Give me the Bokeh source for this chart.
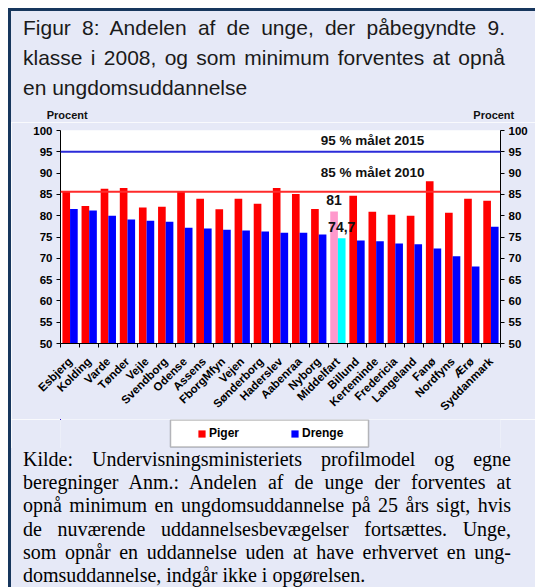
import math
from bokeh.plotting import figure
from bokeh.layouts import column, row
from bokeh.models import (Range1d, LinearAxis, FixedTicker, Span, Label, Legend, LegendItem,
                          ColumnDataSource, Div, BoxAnnotation)
from bokeh.transform import dodge
from bokeh.core.properties import value
from bokeh.embed import file_html
from bokeh.resources import INLINE

# ---------------- data ----------------
categories = ["Esbjerg", "Kolding", "Varde", "Tønder", "Vejle", "Svendborg", "Odense",
              "Assens", "FborgMfyn", "Vejen", "Sønderborg", "Haderslev", "Aabenraa",
              "Nyborg", "Middelfart", "Billund", "Kerteminde", "Fredericia", "Langeland",
              "Fanø", "Nordfyns", "Ærø", "Syddanmark"]
piger = [85.7, 82.3, 86.3, 86.5, 81.9, 82.1, 85.7, 84.0, 81.5, 84.0, 82.8, 86.5, 85.1,
         81.6, 81.0, 84.7, 80.9, 80.2, 80.0, 88.1, 80.7, 84.0, 83.5]
drenge = [81.6, 81.2, 80.0, 79.1, 78.8, 78.6, 77.2, 77.0, 76.7, 76.5, 76.3, 76.0, 76.0,
          75.6, 74.7, 74.2, 74.0, 73.5, 73.3, 72.3, 70.5, 68.1, 77.4]
highlight = "Middelfart"
series_names = ["Piger", "Drenge"]
goal_values = [95.0, 85.6]
goal_labels = ["95 % målet 2015", "85 % målet  2010"]
y_ticks = [50, 55, 60, 65, 70, 75, 80, 85, 90, 95, 100]
y_label = "Procent"

title_lines = ["Figur 8: Andelen af de unge, der påbegyndte 9.",
               "klasse i 2008, og som minimum forventes at opnå",
               "en ungdomsuddannelse"]
caption_lines = ["Kilde: Undervisningsministeriets profilmodel og egne",
                 "beregninger Anm.: Andelen af de unge der forventes at",
                 "opnå minimum en ungdomsuddannelse på 25 års sigt, hvis",
                 "de nuværende uddannelsesbevægelser fortsættes. Unge,",
                 "som opnår en uddannelse uden at have erhvervet en ung-",
                 "domsuddannelse, indgår ikke i opgørelsen."]

# ---------------- styles ----------------
BG = "#E6E9F7"
NAVY = "#17365D"
RED, BLUE, PINK, CYAN = "#FF0000", "#0000FF", "#FF99CC", "#00FFFF"
SANS, SERIF = "Liberation Sans", "Liberation Serif"

OX, OY, BORDER = 8, 8, 3           # outer white margin and navy border
CX, CY = OX + BORDER, OY + BORDER  # content origin on page
CW = 535 - CX                      # content width
CH = 587 - CY                      # content height
FX0, FX1, FY0, FY1 = 60, 500, 130, 345   # chart frame position on page (px)
TITLE_H = 122 - CY                 # title block: page y 11..122
FIG_TOP = CY + TITLE_H
FIG_H = 419 - FIG_TOP              # chart: page y 122..419
LEG_TOP = FIG_TOP + FIG_H
LEG_H = 448 - LEG_TOP              # legend strip: page y 419..448
CAP_TOP = LEG_TOP + LEG_H
CAP_H = 587 - CAP_TOP              # caption block, cut at the window bottom

n = len(categories)
p = figure(width=CW, height=FIG_H, x_range=Range1d(-0.5, n - 0.5), y_range=Range1d(50, 100),
           output_backend="svg", toolbar_location=None,
           min_border_left=FX0 - CX, min_border_right=CX + CW - FX1,
           min_border_top=FY0 - FIG_TOP, min_border_bottom=FIG_TOP + FIG_H - FY1,
           background_fill_color="white", border_fill_color=BG, outline_line_color=None)
p.grid.visible = False


def px2x(px):
    return -0.5 + (px - FX0) * n / (FX1 - FX0)


def py2y(py):
    return 50 + (FY1 - py) * 50.0 / (FY1 - FY0)


# ---------------- bars ----------------
pc = [PINK if c == highlight else RED for c in categories]
dc = [CYAN if c == highlight else BLUE for c in categories]
src = ColumnDataSource(dict(x=list(range(n)), piger=piger, drenge=drenge, pc=pc, dc=dc))
r1 = p.vbar(x=dodge("x", -0.2, range=p.x_range), top="piger", width=0.4, fill_color="pc",
            line_color=None, source=src)
r2 = p.vbar(x=dodge("x", 0.2, range=p.x_range), top="drenge", width=0.4, fill_color="dc",
            line_color=None, source=src)

hi = categories.index(highlight)


def fmt(v):
    s = f"{v:.1f}".replace(".", ",")
    return s[:-2] if s.endswith(",0") else s


for vals, off in [(piger, -0.2), (drenge, 0.2)]:
    s = ColumnDataSource(dict(x=[hi], y=[vals[hi]], t=[fmt(vals[hi])]))
    p.text(x=dodge("x", off, range=p.x_range), y="y", text="t", source=s,
           text_font=value(SANS), text_font_style="bold", text_font_size="14px",
           text_align="center", text_baseline="bottom", y_offset=-6, text_color="#111111")

# ---------------- goal lines ----------------
for gv, col in zip(goal_values, ["#2B2BD9", "#FF2A2A"]):
    p.add_layout(Span(location=gv, dimension="width", line_color=col, line_width=2))
for gl, (lx, ly) in zip(goal_labels, [(372, 140), (374, 172)]):
    p.add_layout(Label(x=px2x(lx), y=py2y(ly), text=gl, text_font=SANS, text_font_style="bold",
                       text_font_size="13.5px", text_align="center", text_baseline="middle",
                       text_color="#111111"))


# ---------------- axes ----------------
def style_y(ax):
    ax.ticker = FixedTicker(ticks=y_ticks)
    ax.major_label_text_font = SANS
    ax.major_label_text_font_style = "bold"
    ax.major_label_text_font_size = "11.5px"
    ax.major_label_text_color = "black"
    ax.axis_line_color = "black"
    ax.major_tick_line_color = "black"
    ax.major_tick_out = 4
    ax.major_tick_in = 0
    ax.minor_tick_line_color = None
    ax.major_label_standoff = 4


style_y(p.yaxis[0])
ry = LinearAxis()
style_y(ry)
p.add_layout(ry, "right")

xa = p.xaxis[0]
xa.ticker = FixedTicker(ticks=list(range(n)), minor_ticks=[i - 0.5 for i in range(n + 1)])
xa.major_label_overrides = {i: c for i, c in enumerate(categories)}
xa.major_label_orientation = math.pi / 4
xa.major_label_text_font = SANS
xa.major_label_text_font_style = "bold"
xa.major_label_text_font_size = "11.5px"
xa.major_label_text_color = "black"
xa.major_tick_out = 0
xa.major_tick_in = 0
xa.minor_tick_out = 4
xa.minor_tick_in = 0
xa.minor_tick_line_color = "black"
xa.axis_line_color = "black"
xa.major_label_standoff = 12

# ---------------- legend strip (own small figure; its frame lines up with the chart's) ----------
lg = figure(width=CW, height=LEG_H, x_range=Range1d(FX0, FX1), y_range=Range1d(0, LEG_H),
            x_axis_type=None, y_axis_type=None,
            output_backend="svg", toolbar_location=None, min_border=0,
            min_border_left=FX0 - CX, min_border_right=CX + CW - FX1,
            min_border_top=0, min_border_bottom=0,
            background_fill_color=BG, border_fill_color=BG, outline_line_color=None)
lg.grid.visible = False
# legend box on page: x 170..368, y 419.5..446.5
lg.add_layout(BoxAnnotation(left=170, right=368, top=CAP_TOP - 419.5, bottom=CAP_TOP - 446.5,
                            fill_color="white", fill_alpha=1, line_color="#222222",
                            line_width=1.5))
# legend proxies share the chart data; zero height, so they draw nothing in the strip
lr1 = lg.vbar(x="x", top="piger", bottom="piger", width=0.4, fill_color="pc",
              line_color=None, source=src)
lr2 = lg.vbar(x="x", top="drenge", bottom="drenge", width=0.4, fill_color="dc",
              line_color=None, source=src)
# tuple location = bottom-left corner of the legend, in px from the frame's bottom-left
legend = Legend(items=[LegendItem(label=series_names[0], renderers=[lr1], index=0),
                       LegendItem(label=series_names[1], renderers=[lr2], index=0)],
                orientation="horizontal", location=(197 - FX0, CAP_TOP - 440),
                padding=0, spacing=51, glyph_width=9, glyph_height=9, label_standoff=3,
                label_height=9, label_width=20, label_text_font=SANS,
                label_text_font_style="bold", label_text_font_size="12px",
                label_text_color="black", background_fill_alpha=0, border_line_alpha=0,
                margin=0)
lg.add_layout(legend, "center")


# ---------------- title / caption as justified HTML ----------------
def block_html(lines, font, size, lh, width, color, pad_top, pad_left, extra=""):
    rows = []
    for i, line in enumerate(lines):
        al = "left" if i == len(lines) - 1 else "justify"
        rows.append(f'<div style="text-align:{al};text-align-last:{al};">{line}</div>')
    return (f'<div style="position:relative;width:{CW}px;">'
            f'<div style="margin:0;padding-top:{pad_top}px;padding-left:{pad_left}px;'
            f'width:{width}px;font-family:\'{font}\';font-size:{size}px;'
            f'line-height:{lh}px;color:{color};">'
            + "".join(rows) + "</div>" + extra + "</div>")


def procent_span(left_px, baseline_px):
    top = baseline_px - CY - 9.3
    return (f'<span style="position:absolute;left:{left_px - CX}px;top:{top}px;'
            f'font-family:\'{SANS}\';font-weight:bold;font-size:11px;line-height:11px;'
            f'color:#111111;">{y_label}</span>')


title_html = block_html(title_lines, SANS, 21, 30, 494, "#1A1A1A", 1.5, 23 - CX,
                        procent_span(46.7, 119.5) + procent_span(473.3, 119.5))
caption_html = block_html(caption_lines, SERIF, 20, 23.2, 500, "#000000",
                          466 - CAP_TOP - 18.2, 23 - CX)

title_div = Div(text=title_html, width=CW, height=TITLE_H, margin=0,
                styles={"background-color": BG, "overflow": "hidden"})
caption_div = Div(text=caption_html, width=CW, height=CAP_H, margin=0,
                  styles={"background-color": BG, "overflow": "hidden"})

content = column(title_div, p, lg, caption_div, spacing=0)
top_bar = Div(text="", width=BORDER + CW, height=BORDER, margin=0,
              styles={"background-color": NAVY})
left_bar = Div(text="", width=BORDER, height=CH, margin=0,
               styles={"background-color": NAVY})
root = column(top_bar, row(left_bar, content, spacing=0), spacing=0,
              styles={"position": "absolute", "left": f"{OX}px", "top": f"{OY}px"})

open("out.html", "w").write(file_html(root, INLINE))
